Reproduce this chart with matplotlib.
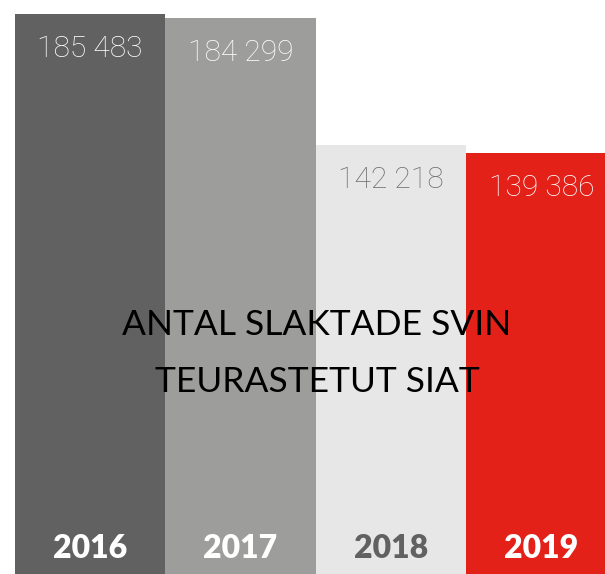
import matplotlib
matplotlib.use("Agg")
import matplotlib.pyplot as plt

# data
years = ["2016", "2017", "2018", "2019"]
values = [185483, 184299, 142218, 139386]
bar_colors = ["#616161", "#9d9d9b", "#e7e7e7", "#e32119"]
value_colors = ["white", "white", "#6e6e6e", "white"]
year_colors = ["white", "white", "#616161", "white"]
title_lines = ["ANTAL SLAKTADE SVIN", "TEURASTETUT SIAT"]

W, H = 605, 574
fig = plt.figure(figsize=(W / 100, H / 100), dpi=100)
ax = fig.add_axes([14.5 / W, 0, (W - 14.5) / W, 1])

px_per_bar = 150.6
x = list(range(len(years)))
ax.bar(x, values, width=1.0, color=bar_colors, linewidth=0)

ax.set_xlim(-0.5, -0.5 + (W - 14.5) / px_per_bar)
ymax = values[0] * H / 560
ax.set_ylim(0, ymax)
ax.axis("off")

unit = ymax / H  # value per pixel
for i, v in enumerate(values):
    ax.text(i, v - 35 * unit, f"{v:,}".replace(",", " "), ha="center", va="center",
            color=value_colors[i], fontsize=21.5, family="Roboto", fontweight="light")
    ax.text(i, 26 * unit, years[i], ha="center", va="center",
            color=year_colors[i], fontsize=23, family="Lato", fontweight="heavy")

fig.text(317 / W, 1 - 325 / H, title_lines[0], ha="center", va="center",
         fontsize=25.5, family="Lato", color="black")
fig.text(317 / W, 1 - 382 / H, title_lines[1], ha="center", va="center",
         fontsize=25.5, family="Lato", color="black")

fig.savefig("out.png", dpi=100, facecolor="white")
